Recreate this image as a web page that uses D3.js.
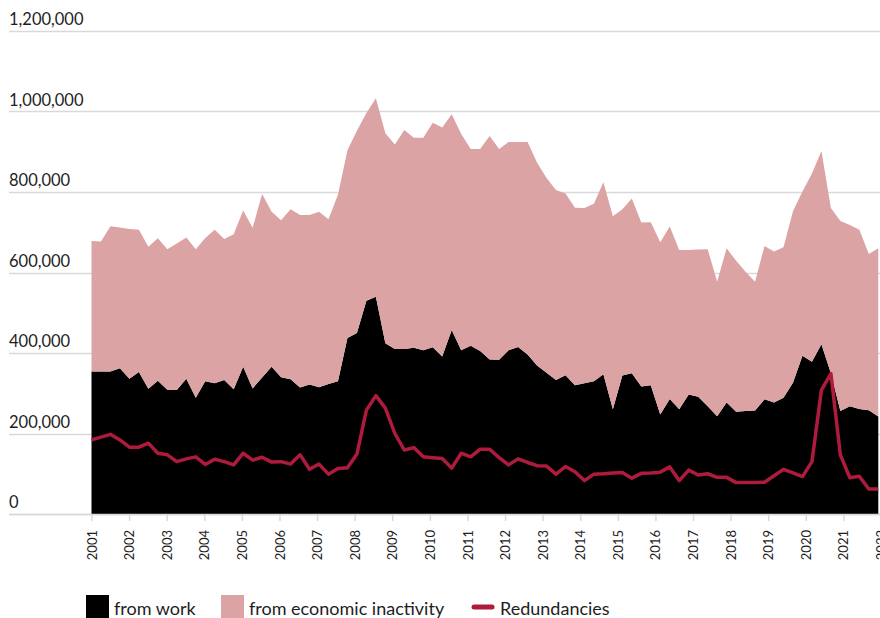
<!DOCTYPE html>
<html>
<head>
<meta charset="utf-8">
<script src="https://cdn.jsdelivr.net/npm/d3@7"></script>
<style>
  body { margin: 0; background: #fff; }
  text { font-family: Lato, "Open Sans", "DejaVu Sans", sans-serif; fill: #1e1e1e; }
</style>
</head>
<body>
<div id="chart"></div>
<script>
// tick labels on the x axis (one per year)
var tickYears = [2001, 2002, 2003, 2004, 2005, 2006, 2007, 2008, 2009, 2010, 2011,
                 2012, 2013, 2014, 2015, 2016, 2017, 2018, 2019, 2020, 2021, 2022];
var quarterNames = ["Q1", "Q2", "Q3", "Q4"];

// flows into unemployment, thousands, quarterly 2001 Q1 - 2021 Q4
var fromWork = [354, 354, 354, 362, 336, 353, 311, 331, 309, 308, 336, 289,
                330, 325, 333, 310, 366, 312, 339, 366, 340, 335, 314, 322,
                315, 323, 330, 437, 450, 530, 540, 424, 410, 410, 413, 407,
                414, 391, 457, 407, 418, 405, 384, 383, 407, 415, 396, 369,
                351, 333, 345, 320, 325, 330, 347, 260, 344, 350, 317, 320,
                247, 286, 260, 297, 291, 268, 243, 277, 254, 256, 257, 285,
                277, 289, 326, 393, 378, 422, 350, 256, 268, 261, 258, 242];

var fromInactivity = [324, 323, 361, 350, 372, 353, 353, 354, 349, 364, 351, 369,
                      356, 381, 350, 385, 388, 399, 456, 385, 390, 422, 429, 421,
                      436, 409, 463, 467, 502, 466, 493, 522, 508, 544, 522, 528,
                      558, 569, 536, 537, 489, 502, 555, 524, 517, 509, 528, 504,
                      484, 472, 451, 441, 435, 441, 477, 480, 413, 434, 407, 405,
                      428, 428, 396, 359, 366, 390, 334, 383, 375, 346, 320, 381,
                      375, 374, 426, 408, 468, 480, 410, 472, 450, 445, 388, 418];

var redundancies = [184, 191, 198, 184, 166, 166, 176, 151, 147, 130, 137, 142,
                    123, 136, 130, 122, 151, 134, 141, 129, 130, 124, 147, 111,
                    124, 99, 113, 115, 149, 258, 294, 263, 200, 159, 165, 142,
                    140, 138, 114, 151, 142, 161, 161, 140, 122, 137, 128, 120,
                    119, 99, 118, 105, 83, 99, 100, 102, 103, 89, 101, 102,
                    104, 117, 83, 109, 97, 100, 91, 91, 78, 78, 78, 79,
                    95, 111, 102, 93, 130, 308, 349, 147, 90, 94, 62, 62];

var seriesNames = ["from work", "from economic inactivity", "Redundancies"];

var width = 880, height = 618;
var plotLeft = 91.5, plotRight = 878.3, gridLeft = 9, gridRight = 880;
var plotTop = 31, plotBottom = 514;
var colors = { work: "#000000", inactivity: "#dba3a3", red: "#ae1b3d", grid: "#d9d9d9" };

// quarter categories built from the year labels
var periods = [];
tickYears.slice(0, 21).forEach(function (yr) {
    quarterNames.forEach(function (q) { periods.push(yr + " " + q); });
});

var rows = periods.map(function (p, i) {
    return { period: p, work: fromWork[i], inactivity: fromInactivity[i], red: redundancies[i] };
});

var svg = d3.select("#chart").append("svg")
    .attr("width", width)
    .attr("height", height);

var x = d3.scalePoint().domain(periods).range([plotLeft, plotRight]);
var xYear = d3.scaleLinear().domain([2001, 2022]).range([plotLeft, 881]);
var y = d3.scaleLinear().domain([0, 1200]).range([plotBottom, plotTop]);

// gridlines + y labels
var yTicks = y.ticks(6);
var grid = svg.append("g");
grid.selectAll("line")
    .data(yTicks)
    .enter().append("line")
    .attr("x1", gridLeft)
    .attr("x2", gridRight)
    .attr("y1", function (d) { return Math.round(y(d)) + 0.5; })
    .attr("y2", function (d) { return Math.round(y(d)) + 0.5; })
    .attr("stroke", colors.grid)
    .attr("stroke-width", 1.5);

grid.selectAll("text")
    .data(yTicks)
    .enter().append("text")
    .attr("x", gridLeft)
    .attr("y", function (d) { return y(d) - 6; })
    .style("font-size", "16.5px")
    .text(function (d) { return d3.format(",")(d * 1000); });

// stacked areas
var stack = d3.stack().keys(["work", "inactivity"]);
var layers = stack(rows);

var area = d3.area()
    .x(function (d) { return x(d.data.period); })
    .y0(function (d) { return y(d[0]); })
    .y1(function (d) { return y(d[1]); });

svg.append("g").selectAll("path")
    .data(layers)
    .enter().append("path")
    .attr("d", area)
    .attr("fill", function (d) { return d.key == "work" ? colors.work : colors.inactivity; });

// redundancies line
var line = d3.line()
    .x(function (d) { return x(d.period); })
    .y(function (d) { return y(d.red); });

svg.append("path")
    .datum(rows)
    .attr("d", line)
    .attr("fill", "none")
    .attr("stroke", colors.red)
    .attr("stroke-width", 3.5)
    .attr("stroke-linejoin", "round");

// x axis
var xAxis = svg.append("g")
    .attr("transform", "translate(0," + plotBottom + ")")
    .call(d3.axisBottom(xYear).tickValues(tickYears).tickFormat(d3.format("d")).tickSize(7).tickSizeOuter(0));
xAxis.select(".domain").remove();
xAxis.selectAll(".tick line").attr("stroke", colors.grid).attr("stroke-width", 1.5);
xAxis.selectAll(".tick text")
    .attr("transform", "rotate(-90)")
    .attr("x", -16)
    .attr("y", 0)
    .attr("dy", "0.35em")
    .style("text-anchor", "end")
    .style("font-size", "13px")
    .style("font-family", "Lato, 'Open Sans', sans-serif")
    .style("fill", "#1e1e1e");

svg.append("line")
    .attr("x1", gridLeft).attr("x2", gridRight)
    .attr("y1", plotBottom + 0.5).attr("y2", plotBottom + 0.5)
    .attr("stroke", colors.grid)
    .attr("stroke-width", 1.5);

// legend
var legend = svg.append("g").attr("transform", "translate(0,595)");
var legendItems = [
    { name: seriesNames[0], type: "box", color: colors.work, x: 86 },
    { name: seriesNames[1], type: "box", color: colors.inactivity, x: 221 },
    { name: seriesNames[2], type: "line", color: colors.red, x: 472 }
];
legendItems.forEach(function (it) {
    if (it.type == "box") {
        legend.append("rect")
            .attr("x", it.x).attr("y", 0)
            .attr("width", 23).attr("height", 23)
            .attr("fill", it.color);
    } else {
        legend.append("line")
            .attr("x1", it.x + 2).attr("x2", it.x + 20)
            .attr("y1", 12).attr("y2", 12)
            .attr("stroke", it.color)
            .attr("stroke-width", 5)
            .attr("stroke-linecap", "round");
    }
    legend.append("text")
        .attr("x", it.x + 28).attr("y", 20)
        .style("font-size", "18px")
        .text(it.name);
});
</script>
</body>
</html>
